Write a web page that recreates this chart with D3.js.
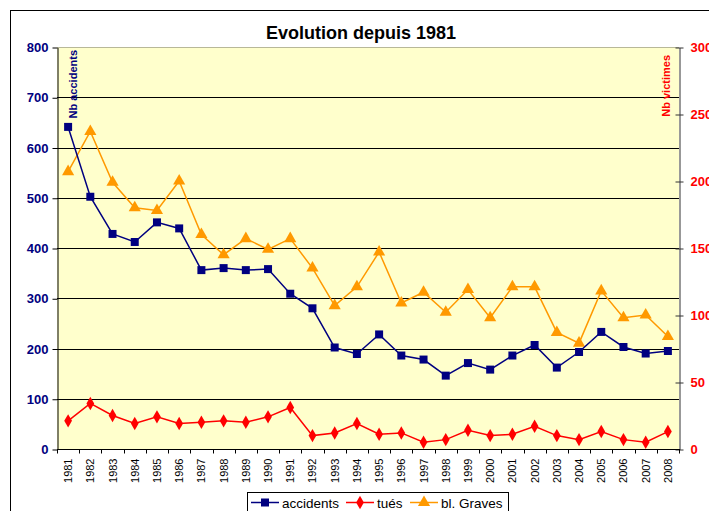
<!DOCTYPE html>
<html>
<head>
<meta charset="utf-8">
<script src="https://cdn.jsdelivr.net/npm/d3@7"></script>
<style>
  body { margin: 0; background: #fff; }
  svg { display: block; font-family: Arial, "Liberation Sans", sans-serif; }
</style>
</head>
<body>
<svg id="chart"></svg>
<script>
// data
const years = d3.range(1981, 2009).map(String);
const accidents = [641, 502, 428, 412, 451, 439, 356, 360, 356, 358, 309, 280, 202, 189,
                   228, 186, 178, 146, 171, 158, 186, 207, 162, 193, 233, 203, 190, 195];
const tues = [21, 34, 25, 19, 24, 19, 20, 21, 20, 24, 31, 10, 12, 19,
              11, 12, 5, 7, 14, 10, 11, 17, 10, 7, 13, 7, 5, 13];
const blGraves = [207, 237, 199, 180, 178, 200, 160, 145, 157, 149, 157, 135, 107, 121,
                  147, 109, 117, 102, 119, 98, 121, 121, 87, 79, 118, 98, 100, 84];
const leftTicks = [0, 100, 200, 300, 400, 500, 600, 700, 800];
const rightTicks = [0, 50, 100, 150, 200, 250, 300];

const W = 709, H = 511;
const plot = {left: 57, right: 679, top: 47, bottom: 449};

const svg = d3.select("#chart").attr("width", W).attr("height", H);

//outer frame
svg.append("rect")
    .attr("x", 10.5).attr("y", 10.5)
    .attr("width", 720).attr("height", 520)
    .attr("fill", "#fff").attr("stroke", "#000").attr("stroke-width", 1);

const x = d3.scaleBand().domain(years).range([plot.left, plot.right]);
const yL = d3.scaleLinear().domain([0, 800]).range([plot.bottom, plot.top]);
const yR = d3.scaleLinear().domain([0, 300]).range([plot.bottom, plot.top]);

//plot background
svg.append("rect")
    .attr("x", plot.left).attr("y", plot.top)
    .attr("width", plot.right - plot.left).attr("height", plot.bottom - plot.top)
    .attr("fill", "#FFFFCC");

//gridlines
svg.append("g")
    .selectAll("line")
    .data(leftTicks.slice(1))
    .join("line")
    .attr("x1", plot.left).attr("x2", plot.right)
    .attr("y1", d => Math.round(yL(d)) + 0.5).attr("y2", d => Math.round(yL(d)) + 0.5)
    .attr("stroke", d => d === 800 ? "#b8b898" : "#000")
    .attr("stroke-width", 1);

//left axis
const axL = svg.append("g")
    .attr("transform", `translate(${plot.left + 0.5},0.5)`)
    .call(d3.axisLeft(yL).tickValues(leftTicks).tickSize(5).tickPadding(4).tickSizeOuter(0));
axL.select(".domain").attr("stroke", "#000");
axL.selectAll("text")
    .attr("fill", "#000080").attr("font-size", 13).attr("font-weight", "bold")
    .attr("font-family", "Arial, 'Liberation Sans', sans-serif");

//right axis, ticks cross the line
const axR = svg.append("g")
    .attr("transform", `translate(${plot.right + 0.5},0.5)`)
    .call(d3.axisRight(yR).tickValues(rightTicks).tickSize(4).tickPadding(7).tickSizeOuter(0));
axR.select(".domain").attr("stroke", "#333");
axR.selectAll(".tick line").attr("x1", -4).attr("stroke", "#333");
axR.selectAll("text")
    .attr("fill", "#FF0000").attr("font-size", 13).attr("font-weight", "bold")
    .attr("font-family", "Arial, 'Liberation Sans', sans-serif");

//bottom axis: ticks between categories
const axB = svg.append("g").attr("transform", `translate(0,${plot.bottom + 0.5})`);
axB.append("line")
    .attr("x1", plot.left).attr("x2", plot.right + 1)
    .attr("stroke", "#000");
const bounds = years.map(d => x(d)).concat([plot.right]);
axB.selectAll("line.tk")
    .data(bounds)
    .join("line")
    .attr("class", "tk")
    .attr("x1", d => Math.round(d) + 0.5).attr("x2", d => Math.round(d) + 0.5)
    .attr("y1", 0).attr("y2", 4)
    .attr("stroke", "#000");
axB.selectAll("text")
    .data(years)
    .join("text")
    .attr("transform", d => `translate(${x(d) + x.bandwidth() / 2 + 4},9) rotate(-90)`)
    .attr("text-anchor", "end")
    .attr("font-size", 11)
    .attr("fill", "#000")
    .text(d => d);

//axis titles inside the plot
svg.append("text")
    .attr("transform", `translate(77,50) rotate(-90)`)
    .attr("text-anchor", "end")
    .attr("font-size", 11).attr("font-weight", "bold")
    .attr("fill", "#000080")
    .text("Nb accidents");
svg.append("text")
    .attr("transform", `translate(670,55) rotate(-90)`)
    .attr("text-anchor", "end")
    .attr("font-size", 11).attr("font-weight", "bold")
    .attr("fill", "#FF0000")
    .text("Nb victimes");

//title
svg.append("text")
    .attr("x", 361).attr("y", 39)
    .attr("text-anchor", "middle")
    .attr("font-size", 18).attr("font-weight", "bold")
    .attr("fill", "#000")
    .text("Evolution depuis 1981");

const cx = d => x(d) + x.bandwidth() / 2;
const symSquare = d3.symbol().type(d3.symbolSquare).size(64);
const symDiamond = d3.symbol().type(d3.symbolDiamond).size(52);
const symTriangle = d3.symbol().type(d3.symbolTriangle).size(64);

const series = [
    {name: "accidents", values: accidents, scale: yL, color: "#000080", sym: symSquare},
    {name: "tués", values: tues, scale: yR, color: "#FF0000", sym: symDiamond},
    {name: "bl. Graves", values: blGraves, scale: yR, color: "#FF9900", sym: symTriangle}
];

//draw in order: graves, tues, accidents on top
[series[2], series[1], series[0]].forEach(s => {
    const line = d3.line()
        .x((d, i) => cx(years[i]))
        .y(d => s.scale(d));
    svg.append("path")
        .datum(s.values)
        .attr("d", line)
        .attr("fill", "none")
        .attr("stroke", s.color)
        .attr("stroke-width", 1.5);
    svg.append("g")
        .selectAll("path")
        .data(s.values)
        .join("path")
        .attr("transform", (d, i) => `translate(${cx(years[i])},${s.scale(d)})`)
        .attr("d", s.sym)
        .attr("fill", s.color);
});

//legend
const lg = svg.append("g").attr("transform", "translate(247.5,492.5)");
lg.append("rect")
    .attr("width", 261).attr("height", 30)
    .attr("fill", "#fff").attr("stroke", "#000");
const legX = [3.5, 98.5, 162.5];
series.forEach((s, i) => {
    const g = lg.append("g").attr("transform", `translate(${legX[i]},10)`);
    g.append("line").attr("x1", 0).attr("x2", 28).attr("stroke", s.color).attr("stroke-width", 1.5);
    g.append("path").attr("transform", "translate(14,0)").attr("d", s.sym).attr("fill", s.color);
    g.append("text")
        .attr("x", 31).attr("y", 5.5)
        .attr("font-size", 13.5)
        .attr("fill", "#000")
        .text(s.name);
});
</script>
</body>
</html>
